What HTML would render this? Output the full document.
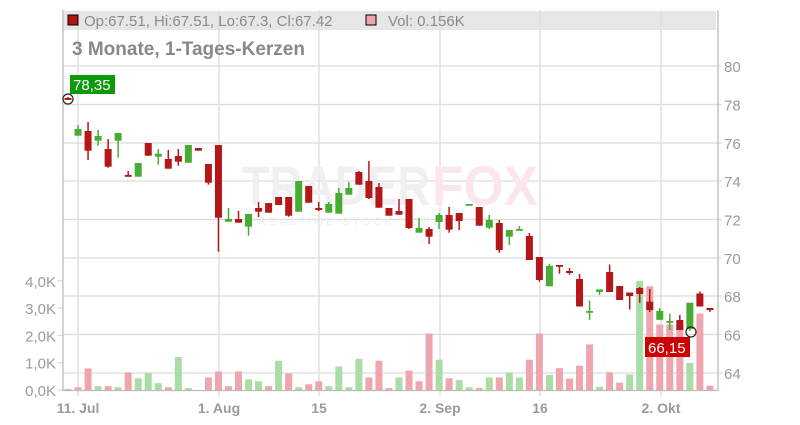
<!DOCTYPE html>
<html><head><meta charset="utf-8"><style>
body{margin:0;background:#fff;width:800px;height:420px;overflow:hidden;font-family:"Liberation Sans",sans-serif}
svg text{font-family:"Liberation Sans",sans-serif}
</style></head><body>
<svg id="s" width="800" height="420" xmlns="http://www.w3.org/2000/svg">
<rect x="63" y="11" width="653" height="19" fill="#e6e6e6"/>
<g stroke="#dcdcdc" stroke-width="1.3" id="grid"></g>
<text x="242" y="205" font-size="56" font-weight="bold" fill="#f0f0f0" textLength="188" lengthAdjust="spacingAndGlyphs">TRADER</text>
<text x="432" y="205" font-size="56" font-weight="bold" fill="#fde6ea" textLength="106" lengthAdjust="spacingAndGlyphs">FOX</text>
<text x="258" y="225" font-size="11" fill="#eeeeee" letter-spacing="3">REALTIME STOCK SCREENING</text>
<g id="vol"></g>
<g id="c"></g>
<line x1="63" y1="10" x2="63" y2="391" stroke="#bbb" stroke-width="1.3"/>
<line x1="63" y1="390.5" x2="718" y2="390.5" stroke="#bbb" stroke-width="1.3"/>
<line x1="718" y1="10" x2="718" y2="391" stroke="#bbb" stroke-width="1.3"/>
<rect x="68" y="15" width="10" height="10" fill="#b31515" stroke="#000" stroke-width="1"/>
<text x="84" y="26" font-size="15" fill="#8a8a8a">Op:67.51, Hi:67.51, Lo:67.3, Cl:67.42</text>
<rect x="366" y="15" width="10" height="10" fill="#eea4ad" stroke="#000" stroke-width="1"/>
<text x="388" y="26" font-size="15" fill="#8a8a8a">Vol: 0.156K</text>
<text x="72" y="55" font-size="19" font-weight="bold" fill="#888">3 Monate, 1-Tages-Kerzen</text>
<rect x="70" y="75" width="45" height="19" fill="#0a9a0a"/>
<text x="73" y="90" font-size="15" fill="#fff">78,35</text>
<rect x="645" y="337" width="45" height="20" fill="#cc0000"/>
<text x="648" y="353" font-size="15" fill="#fff">66,15</text>
<circle cx="68" cy="99" r="5" fill="none" stroke="#222" stroke-width="1.2"/>
<circle cx="691" cy="332" r="5" fill="none" stroke="#222" stroke-width="1.2"/>
<g id="lab" font-size="15" fill="#9a9a9a"></g>
</svg>
<script>
var ns="http://www.w3.org/2000/svg";
function el(p,t,a,txt){var e=document.createElementNS(ns,t);for(var k in a)e.setAttribute(k,a[k]);if(txt)e.textContent=txt;document.getElementById(p).appendChild(e);}
[66,104.5,143,181,219.5,258,296,334.5,373].forEach(function(y,i){el('grid','line',{x1:63,x2:722,y1:y,y2:y});el('lab','text',{x:724,y:y+6},String(80-2*i));});
[78,219,319,440,540,661].forEach(function(x){el('grid','line',{x1:x,x2:x,y1:10,y2:396});});
[[0,'0,0K'],[1,'1,0K'],[2,'2,0K'],[3,'3,0K'],[4,'4,0K']].forEach(function(v){var y=390-v[0]*27.3;el('grid','line',{x1:57,x2:63,y1:y,y2:y});el('lab','text',{x:56,y:y+6,'text-anchor':'end'},v[1]);});
[[78,'11. Jul'],[219,'1. Aug'],[319,'15'],[440,'2. Sep'],[540,'16'],[661,'2. Okt']].forEach(function(v){el('lab','text',{x:v[0],y:413,'text-anchor':'middle','font-weight':'bold','font-size':'14'},v[1]);});
var C=[[98,100,97,100,'r'],[135.7,129,125,135.7,'g'],[131,150.7,122,160,'r'],[140.7,136,130,145.7,'g'],[149,166.7,139,167.7,'r'],[140.7,133,133,157.7,'g'],[175,176,171,176,'r'],[176.7,163,163,176.7,'g'],[143,155.7,143,155.7,'r'],[156.7,153.7,149,164.7,'g'],[159,168.7,150,168.7,'r'],[156,161.7,149,165.7,'r'],[162.7,145,145,162.7,'g'],[148,150.7,148,150.7,'r'],[164,182.7,164,184.7,'r'],[145,217.7,145,251.7,'r'],[221.7,219,208,221.7,'g'],[219,222.7,211,222.7,'r'],[226.7,214,214,235.7,'g'],[208,211.7,202,217,'r'],[203,212.7,203,212.7,'r'],[197,205,197,205,'r'],[197,215.7,197,216.7,'r'],[211.7,181,181,211.7,'g'],[186,202.7,186,202.7,'r'],[208,210,202,211,'r'],[212.7,204,202,212.7,'g'],[213.7,193,188,213.7,'g'],[194.7,188,182,194.7,'g'],[172,184.7,171,184.7,'r'],[181,198,161,199,'r'],[187,207.7,183,207.7,'r'],[208,215.7,208,215.7,'r'],[211,214.7,199,214.7,'r'],[199,228,199,229,'r'],[232.7,228,218,232.7,'g'],[229,236.7,227,244,'r'],[222,215,213,229,'g'],[215,229.7,207,232.7,'r'],[213,221,213,230,'r'],[204.7,204,204,204.7,'g'],[207,225.7,207,225.7,'r'],[227.7,220,215,229,'g'],[223,250,220,252.7,'r'],[236.7,230,230,245,'g'],[230.7,229,226,230.7,'g'],[236,260,233,260,'r'],[257,280,257,281.7,'r'],[286.3,265.8,263.8,286.3,'g'],[265,266,265,273.7,'r'],[271,273,268,274.7,'r'],[279,306.5,274,306.5,'r'],[312.6,311,300.6,319.8,'g'],[292,289.4,289.4,295,'g'],[272,292,264.5,292,'r'],[286,300,286,300,'r'],[292.5,296,292.5,309.5,'r'],[288,294,287,303,'r'],[301.7,310,289,312,'r'],[319.8,311,308,319.8,'g'],[322,321,313.6,330,'g'],[320,330,315,330,'r'],[329,302.7,302.7,331,'g'],[293.5,306.5,291.5,306.5,'r'],[308,310,308,312,'r']];
var V=[[.04,'g'],[.1,'r'],[.79,'r'],[.14,'g'],[.14,'r'],[.1,'g'],[.64,'r'],[.43,'g'],[.64,'g'],[.25,'g'],[.1,'r'],[1.21,'g'],[.07,'g'],[0,'r'],[.46,'r'],[.68,'r'],[.14,'r'],[.68,'r'],[.39,'g'],[.32,'g'],[.14,'r'],[1.07,'g'],[.6,'r'],[.1,'g'],[.21,'r'],[.32,'r'],[.14,'g'],[.86,'g'],[.1,'g'],[1.14,'g'],[.46,'r'],[1.07,'r'],[.07,'r'],[.46,'g'],[.71,'r'],[.32,'r'],[2.07,'r'],[1.11,'g'],[.43,'r'],[.36,'g'],[.1,'g'],[.07,'r'],[.46,'g'],[.46,'r'],[.64,'g'],[.46,'g'],[1.11,'r'],[2.07,'r'],[.55,'g'],[.8,'r'],[.42,'r'],[.89,'r'],[1.67,'r'],[.12,'g'],[.65,'r'],[.27,'r'],[.57,'g'],[4.0,'g'],[3.8,'r'],[2.4,'r'],[2.4,'r'],[2.4,'r'],[.99,'g'],[2.8,'r'],[.16,'r']];
V.forEach(function(v,i){var x=68+10.03*i;var h=v[0]*27.3;if(h>0)el('vol','rect',{x:x-3.5,y:390-h,width:7,height:h,fill:v[1]=='g'?'#aadca6':'#eea5ae'});});
C.forEach(function(c,i){var x=68+10.03*i;var col=c[4]=='g'?'#47ad32':'#b31717';el('c','line',{x1:x,x2:x,y1:c[2],y2:c[3],stroke:col,'stroke-width':1.5});var t=Math.min(c[0],c[1]),b=Math.max(c[0],c[1]);el('c','rect',{x:x-3.5,y:t,width:7,height:Math.max(b-t,1.8),fill:col});});
</script>
</body></html>
